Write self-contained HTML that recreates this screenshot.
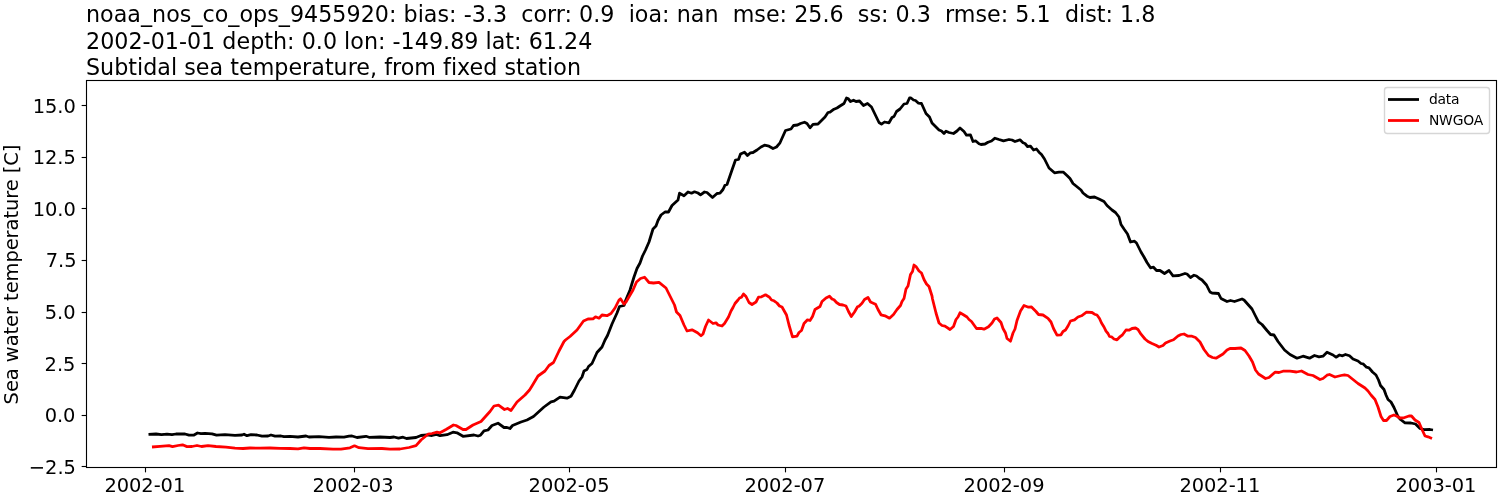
<!DOCTYPE html>
<html lang="en"><head><meta charset="utf-8"><title>noaa_nos_co_ops_9455920</title>
<style>html,body{margin:0;padding:0;background:#fff}body{width:1500px;height:500px;overflow:hidden}svg{display:block}text{font-family:"DejaVu Sans","Liberation Sans",sans-serif;fill:#000}</style></head><body>
<svg width="1500" height="500" viewBox="0 0 1500 500">
<rect width="1500" height="500" fill="#fff"/>
<g font-size="22.222" letter-spacing="0.014">
<text xml:space="preserve" x="86.0" y="22">noaa_nos_co_ops_9455920: bias: -3.3  corr: 0.9  ioa: nan  mse: 25.6  ss: 0.3  rmse: 5.1  dist: 1.8</text>
<text xml:space="preserve" x="86.0" y="49">2002-01-01 depth: 0.0 lon: -149.89 lat: 61.24</text>
<text xml:space="preserve" x="86.0" y="75">Subtidal sea temperature, from fixed station</text>
</g>
<polyline points="148.5,434.3 156.0,434.0 161.5,434.7 167.0,434.1 172.0,434.7 176.0,434.0 180.0,433.8 185.0,434.0 189.0,435.2 194.0,435.0 197.5,433.0 201.0,433.7 205.0,433.3 212.0,433.8 216.5,435.1 225.0,434.7 235.0,435.3 242.0,435.0 244.0,434.2 247.0,435.7 251.0,434.7 257.0,435.0 262.0,436.2 268.0,436.0 271.0,435.0 275.0,436.2 281.0,436.0 284.0,436.7 290.0,436.3 298.0,437.0 306.0,436.0 309.0,437.0 319.0,436.6 329.0,437.3 336.0,437.0 344.0,437.2 349.0,436.2 352.0,436.0 357.0,437.5 366.0,436.3 369.0,437.3 380.0,437.0 390.0,437.5 394.0,437.0 398.5,438.2 403.0,437.2 406.5,438.5 416.0,437.5 421.0,435.5 427.0,434.8 432.0,435.5 436.5,434.5 440.0,435.7 447.0,434.7 453.0,432.2 457.0,432.8 463.0,436.3 474.0,435.0 478.0,436.0 480.5,435.2 484.0,430.8 488.0,430.0 492.0,425.5 498.0,423.2 504.0,427.5 507.0,427.5 510.0,428.5 512.5,425.5 521.0,422.0 527.0,420.0 533.5,416.5 544.0,407.0 551.0,401.8 554.0,401.2 560.0,397.2 567.0,398.2 571.0,396.2 574.5,390.0 579.0,381.0 582.0,377.0 584.0,371.0 587.0,369.5 588.5,366.5 592.0,363.5 597.0,352.5 602.0,347.0 605.0,340.0 607.5,335.5 612.0,324.0 617.0,313.0 619.5,306.5 624.0,305.5 626.0,299.5 630.0,290.0 634.0,277.0 637.0,268.5 640.0,263.0 642.5,256.0 645.5,250.0 649.0,242.0 653.0,229.0 656.0,226.0 658.0,220.5 661.0,215.0 665.0,212.0 668.5,212.0 672.0,205.5 678.0,200.0 679.5,193.2 684.0,195.8 688.0,192.0 691.5,193.2 694.5,191.8 698.0,193.0 700.5,194.8 704.5,192.0 707.0,192.5 712.5,197.5 717.0,193.5 720.0,193.2 723.0,189.5 725.0,185.2 727.0,184.5 732.0,170.0 735.5,160.0 738.5,159.5 740.5,154.0 744.5,152.2 747.5,155.5 750.5,152.8 753.0,152.5 757.0,150.0 761.0,147.0 764.5,145.2 769.0,146.2 773.0,148.5 776.5,147.0 780.0,142.8 785.5,130.5 791.0,129.0 793.5,125.5 797.5,125.0 800.5,123.5 804.5,122.2 807.0,123.5 810.0,127.8 813.0,124.3 818.0,124.0 825.0,117.0 828.0,112.5 830.0,112.2 834.0,109.2 837.0,108.0 840.0,106.0 844.0,103.5 846.5,98.0 848.0,98.5 850.5,101.5 853.5,100.2 856.0,101.5 859.5,101.0 863.5,105.5 867.5,103.5 871.5,107.0 879.0,122.5 881.5,124.2 884.5,122.0 889.0,122.8 892.0,117.5 894.0,116.5 896.5,111.5 900.0,109.0 904.0,104.0 907.0,103.5 909.5,98.0 911.0,98.0 913.5,100.0 915.5,100.5 918.5,103.2 921.5,103.5 926.0,113.5 929.5,117.0 932.0,123.0 939.0,130.0 941.5,131.0 944.0,133.5 946.0,131.2 949.0,132.5 953.5,133.5 957.0,131.0 960.0,128.0 964.0,131.5 966.5,135.2 970.5,135.0 973.0,141.5 975.5,140.8 979.0,143.8 981.0,144.5 985.0,144.0 988.0,142.2 991.5,141.0 995.0,138.2 999.0,139.5 1003.5,140.8 1009.0,139.5 1012.0,140.0 1015.0,141.5 1020.0,139.8 1023.0,142.8 1025.0,143.5 1027.5,146.5 1030.5,146.2 1033.5,150.0 1036.5,149.0 1039.0,152.2 1041.5,154.5 1044.5,159.0 1049.0,168.0 1054.5,172.8 1059.0,172.2 1063.5,172.2 1067.5,176.0 1070.0,178.5 1073.0,183.5 1081.0,190.0 1083.0,193.0 1087.0,196.2 1090.0,197.5 1094.5,197.0 1099.0,199.0 1104.0,201.5 1107.0,205.5 1112.0,210.0 1115.5,212.5 1119.0,217.0 1121.0,224.5 1124.0,229.0 1127.5,234.0 1130.5,242.0 1134.5,241.2 1136.5,243.0 1141.0,252.0 1144.0,257.0 1147.0,262.5 1150.5,267.8 1153.5,267.2 1156.5,270.5 1160.0,270.5 1164.5,273.5 1169.0,270.5 1173.0,275.8 1179.0,275.5 1185.0,273.5 1187.0,274.0 1190.5,277.5 1194.0,275.2 1196.5,276.0 1200.0,278.8 1202.0,280.0 1206.5,285.0 1210.0,292.0 1212.0,293.0 1218.5,293.5 1221.0,298.5 1227.0,301.5 1230.5,300.5 1234.5,301.5 1242.0,299.0 1244.0,300.0 1252.0,309.0 1255.5,316.0 1258.5,321.8 1262.0,324.5 1267.0,330.5 1270.5,334.5 1274.0,335.0 1278.0,341.5 1284.5,350.0 1290.0,354.5 1297.0,358.2 1303.0,356.2 1309.5,358.2 1314.5,355.5 1319.0,356.8 1323.0,356.2 1327.0,352.2 1333.0,355.0 1336.0,357.2 1339.5,355.0 1342.5,355.8 1345.5,354.5 1349.5,355.8 1353.0,359.0 1358.0,361.0 1361.0,363.5 1363.0,363.8 1366.5,367.2 1369.0,367.8 1372.5,372.0 1376.0,375.0 1378.5,380.0 1380.5,385.5 1384.0,389.5 1386.0,395.0 1388.0,399.5 1391.0,402.0 1394.0,407.5 1398.0,416.5 1400.5,419.5 1405.0,422.8 1411.0,423.0 1415.5,424.0 1420.0,428.5 1424.0,429.7 1430.0,429.5 1433.0,430.0" fill="none" stroke="#000" stroke-width="2.78" stroke-linejoin="round" stroke-linecap="butt"/>
<polyline points="152.0,447.0 160.0,446.3 169.0,445.7 172.5,446.7 178.0,445.5 182.5,444.8 187.0,446.6 192.0,446.5 197.0,445.5 201.5,446.5 208.0,445.7 216.0,446.5 226.0,447.2 235.0,448.2 243.0,448.5 250.0,448.0 260.0,448.1 270.0,448.0 280.0,448.4 290.0,448.5 298.0,448.8 304.0,447.8 310.0,448.5 320.0,448.5 333.0,449.2 341.0,449.2 350.0,447.8 354.5,445.8 359.0,447.7 368.0,448.7 382.0,448.5 390.0,449.2 400.0,449.0 409.0,447.5 416.0,445.7 421.0,440.0 428.0,434.2 432.0,433.5 437.0,432.2 440.0,432.8 446.0,429.5 453.5,425.0 456.0,425.5 463.0,429.5 466.0,429.5 473.0,425.0 481.0,421.5 490.0,411.5 494.0,406.0 498.5,405.2 504.5,409.5 507.5,408.5 511.0,410.5 517.0,402.0 525.0,395.0 529.5,390.0 532.0,386.0 538.0,376.0 545.0,371.0 549.0,365.5 553.5,362.5 559.0,351.0 564.0,341.5 565.5,340.0 570.0,336.5 577.0,330.0 583.5,321.0 588.0,319.0 593.0,318.8 595.5,316.8 599.0,318.2 602.0,315.0 607.0,315.7 611.0,313.5 615.0,308.0 619.0,300.0 620.5,298.8 624.0,304.0 626.0,302.0 633.0,290.0 636.5,282.0 640.5,278.5 644.5,277.2 649.0,282.5 653.5,283.0 659.0,282.3 666.0,288.0 672.0,300.0 674.5,305.0 676.5,312.0 680.0,315.5 684.0,325.0 687.0,331.0 692.0,329.8 697.5,332.8 701.0,335.8 703.0,334.0 705.5,326.5 708.5,320.0 713.0,323.5 716.0,322.8 718.0,325.0 722.0,326.0 724.5,323.5 728.5,317.0 731.0,311.0 733.0,307.5 735.0,303.5 738.0,300.0 739.5,298.0 741.5,297.2 743.5,294.0 746.0,296.5 749.0,302.5 752.0,304.5 756.0,302.0 758.5,297.2 761.5,296.8 765.5,294.8 769.5,297.2 771.5,300.0 774.0,300.8 777.0,303.0 779.5,306.0 782.0,307.0 786.5,315.0 789.0,325.0 792.5,336.8 797.0,336.2 799.0,332.5 801.5,330.5 804.0,323.5 807.5,319.8 810.0,320.5 812.5,316.5 815.0,309.5 820.0,306.5 822.0,301.5 826.0,298.0 829.5,296.2 832.0,299.0 834.0,299.8 836.5,302.5 839.5,304.5 843.0,305.0 846.0,306.0 848.5,311.5 851.3,316.5 854.5,312.0 857.5,306.8 859.0,306.2 862.0,303.2 864.5,299.5 868.0,297.5 870.5,302.0 875.5,304.2 878.0,309.5 881.0,314.8 885.0,315.8 889.5,318.2 893.5,314.5 897.0,309.5 900.5,305.5 902.0,301.5 904.0,298.5 906.0,289.0 908.0,286.0 910.5,274.5 912.5,271.5 914.0,265.0 916.0,266.5 919.0,271.0 921.5,273.0 924.0,279.5 926.5,284.0 929.0,286.5 932.0,296.0 932.5,299.0 936.0,313.0 939.0,323.0 942.0,325.5 945.0,326.2 950.0,329.5 953.5,326.5 956.0,319.5 958.0,317.0 960.0,312.8 963.0,314.5 967.0,317.0 969.0,319.5 971.5,321.5 976.5,328.5 981.0,328.3 984.0,329.2 988.5,326.8 992.0,323.0 994.5,319.0 997.0,318.0 1001.0,322.5 1003.0,328.5 1005.5,333.0 1007.0,338.5 1010.5,341.2 1013.0,333.0 1015.0,329.0 1017.0,320.5 1020.5,311.0 1024.0,305.5 1028.5,307.2 1031.5,307.0 1036.0,311.5 1038.5,314.5 1043.0,315.0 1048.0,318.3 1051.0,322.0 1053.5,328.5 1057.0,335.2 1061.0,334.8 1063.0,331.5 1065.5,330.0 1068.0,326.0 1070.5,321.0 1074.5,319.8 1078.0,317.0 1081.5,315.8 1086.5,312.2 1092.0,312.5 1094.5,314.2 1097.0,315.0 1099.5,318.5 1101.5,323.0 1104.0,327.0 1106.0,331.2 1108.0,333.5 1109.5,336.5 1111.5,336.8 1114.0,339.0 1117.0,339.8 1119.5,337.2 1122.5,334.8 1126.0,330.0 1129.0,330.2 1132.0,328.5 1135.5,328.0 1138.0,329.5 1141.0,334.2 1145.0,339.0 1148.0,341.5 1152.0,343.5 1156.0,345.2 1159.0,347.0 1163.0,345.5 1165.5,343.0 1170.0,341.0 1173.5,339.8 1178.0,336.0 1181.0,334.5 1184.0,334.0 1188.0,336.2 1192.0,336.2 1195.5,337.5 1200.0,342.0 1204.0,349.5 1208.5,355.5 1212.5,357.5 1216.0,358.2 1223.0,354.0 1227.0,350.0 1230.0,348.5 1235.0,348.5 1241.0,348.0 1245.0,350.5 1249.0,356.0 1252.5,362.0 1255.5,370.0 1258.5,374.0 1262.0,376.2 1265.5,378.5 1269.0,377.5 1275.0,372.2 1279.0,372.5 1283.0,371.2 1290.0,371.2 1296.5,372.0 1301.5,371.0 1308.0,374.5 1313.0,375.5 1320.0,379.5 1323.0,378.5 1327.0,375.2 1329.5,374.5 1335.0,377.0 1341.0,375.5 1344.5,374.8 1348.0,375.5 1353.0,379.5 1358.0,383.5 1365.0,388.0 1368.0,391.0 1371.0,395.0 1375.0,399.5 1378.0,407.0 1381.0,416.5 1383.5,420.5 1386.5,420.5 1390.0,416.5 1394.0,415.0 1397.0,416.2 1400.0,418.0 1404.0,417.8 1409.0,416.0 1411.5,416.0 1415.0,420.0 1419.0,422.5 1422.0,429.5 1425.0,436.0 1428.0,436.8 1432.0,438.5" fill="none" stroke="#f00" stroke-width="2.78" stroke-linejoin="round" stroke-linecap="butt"/>
<rect x="86.5" y="80.5" width="1410.0" height="387.0" fill="none" stroke="#000" stroke-width="1.11"/>
<g stroke="#000" stroke-width="1.11">
<line x1="145.5" y1="467.5" x2="145.5" y2="472.36"/>
<line x1="354.5" y1="467.5" x2="354.5" y2="472.36"/>
<line x1="569.5" y1="467.5" x2="569.5" y2="472.36"/>
<line x1="785.5" y1="467.5" x2="785.5" y2="472.36"/>
<line x1="1004.5" y1="467.5" x2="1004.5" y2="472.36"/>
<line x1="1220.5" y1="467.5" x2="1220.5" y2="472.36"/>
<line x1="1436.5" y1="467.5" x2="1436.5" y2="472.36"/>
<line x1="81.64" y1="105.5" x2="86.5" y2="105.5"/>
<line x1="81.64" y1="157.5" x2="86.5" y2="157.5"/>
<line x1="81.64" y1="208.5" x2="86.5" y2="208.5"/>
<line x1="81.64" y1="260.5" x2="86.5" y2="260.5"/>
<line x1="81.64" y1="312.5" x2="86.5" y2="312.5"/>
<line x1="81.64" y1="363.5" x2="86.5" y2="363.5"/>
<line x1="81.64" y1="415.5" x2="86.5" y2="415.5"/>
<line x1="81.64" y1="466.5" x2="86.5" y2="466.5"/>
</g>
<g font-size="19.444" letter-spacing="-0.05">
<text x="104.39" y="492.0">2002-01</text>
<text x="312.58" y="492.0">2002-03</text>
<text x="528.59" y="492.0">2002-05</text>
<text x="744.39" y="492.0">2002-07</text>
<text x="963.59" y="492.0">2002-09</text>
<text x="1179.39" y="492.0">2002-11</text>
<text x="1395.44" y="492.0">2003-01</text>
<text x="32.68" y="113">15.0</text>
<text x="32.68" y="164">12.5</text>
<text x="32.68" y="216">10.0</text>
<text x="45.78" y="267">7.5</text>
<text x="44.76" y="319">5.0</text>
<text x="44.60" y="371">2.5</text>
<text x="44.64" y="422">0.0</text>
<text x="28.87" y="474">−2.5</text>
<text transform="translate(17.7,274.5) rotate(-90)" text-anchor="middle">Sea water temperature [C]</text>
</g>
<rect x="1384.5" y="87.5" width="105.0" height="46.0" rx="2.8" ry="2.8" fill="#fff" fill-opacity="0.8" stroke="#ccc" stroke-opacity="0.8" stroke-width="1.39"/>
<line x1="1389.40" y1="99.5" x2="1417.60" y2="99.5" stroke="#000" stroke-width="2.78" stroke-linecap="square"/>
<line x1="1389.40" y1="120.5" x2="1417.60" y2="120.5" stroke="#f00" stroke-width="2.78" stroke-linecap="square"/>
<g font-size="13.889" letter-spacing="-0.2"><text x="1428.94" y="103.9">data</text>
<text x="1428.94" y="124.7">NWGOA</text></g>
</svg></body></html>
